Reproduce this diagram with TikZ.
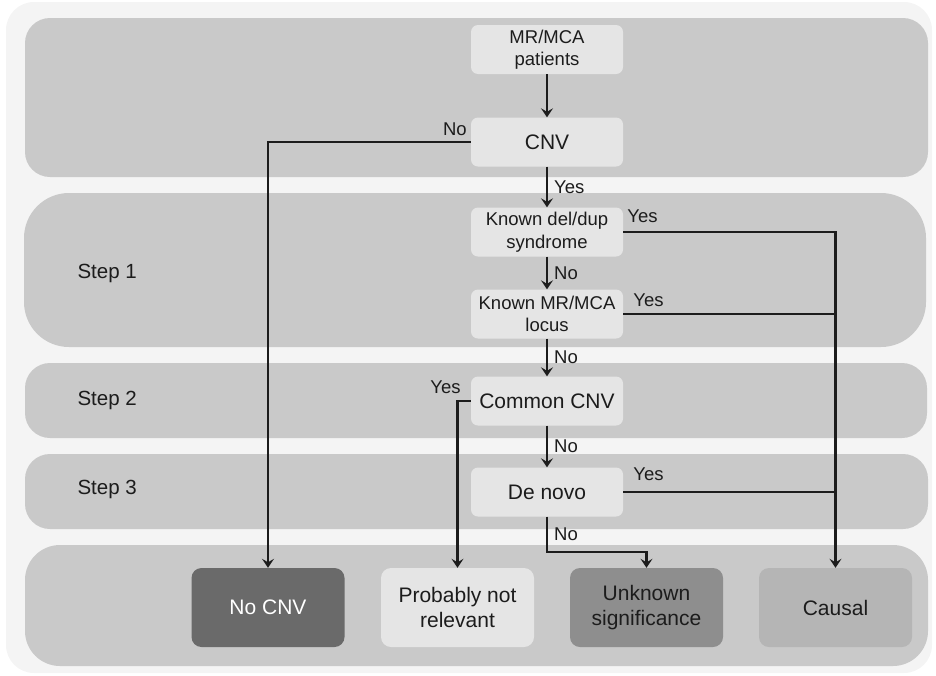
\documentclass[tikz,border=0pt]{standalone}
\usepackage{xcolor}
\usepackage{fontspec}
\setmainfont{Liberation Sans}
\usetikzlibrary{arrows.meta, positioning}
\definecolor{pagegray}{RGB}{244,244,244}
\definecolor{bandgray}{RGB}{201,201,201}
\definecolor{boxgray}{RGB}{229,229,229}
\definecolor{nocnvgray}{RGB}{106,106,106}
\definecolor{unknowngray}{RGB}{142,142,142}
\definecolor{causalgray}{RGB}{181,181,181}
\definecolor{inkgray}{RGB}{28,28,28}

\begin{document}
\begin{tikzpicture}[x=1pt, y=-1pt,
    band/.style={fill=bandgray, rounded corners=25pt},
    steplabel/.style={anchor=west, text=inkgray, font=\fontsize{20.5}{24}\selectfont},
    stepbox/.style={rectangle, fill=boxgray, rounded corners=7pt, minimum width=152pt,
        minimum height=49pt, align=center, text=inkgray, inner sep=2pt,
        font=\fontsize{18.5}{22.5}\selectfont},
    bigtext/.style={font=\fontsize{21}{24}\selectfont},
    outcome/.style={rectangle, rounded corners=10pt, minimum width=153pt, minimum height=79pt,
        align=center, text=inkgray, font=\fontsize{21}{25}\selectfont},
    answer/.style={text=inkgray, inner sep=3pt, font=\fontsize{18.5}{22}\selectfont},
    flow/.style={draw=inkgray, line width=2.3pt, -{Stealth[length=9pt, width=12pt, inset=3.5pt]}},
    link/.style={draw=inkgray, line width=2.3pt}]
    \useasboundingbox (0,0) rectangle (936,675);
    \fill[pagegray, rounded corners=28pt] (6,2) rectangle (932,673);
    \fill[band] (25,18) rectangle (928,177);
    \fill[band, rounded corners=45pt] (24,193) rectangle (926,347);
    \fill[band] (25,363) rectangle (927,438);
    \fill[band] (25,454) rectangle (928,529);
    \fill[band, rounded corners=35pt] (25,545) rectangle (928,666);

    \node[steplabel] (step1) at (74,273) {Step 1};
    \node[steplabel] (step2) at (74,400) {Step 2};
    \node[steplabel] (step3) at (74,489) {Step 3};

    \node[stepbox] (patients) at (547,49.5) {MR/MCA\\patients};
    \node[stepbox, bigtext] (cnv) at (547,142) {CNV};
    \node[stepbox] (deldup) at (547,232) {Known del/dup\\syndrome};
    \node[stepbox] (locus) at (547,314) {Known MR/MCA\\locus};
    \node[stepbox, bigtext] (common) at (547,401) {Common CNV};
    \node[stepbox, bigtext] (denovo) at (547,492) {De novo};

    \node[outcome, fill=nocnvgray, text=white] (nocnv) at (268,607.5) {No CNV};
    \node[outcome, fill=boxgray] (notrel) at (457.5,607.5) {Probably not\\relevant};
    \node[outcome, fill=unknowngray] (unknown) at (646.5,607.5) {Unknown\\significance};
    \node[outcome, fill=causalgray] (causal) at (835.5,607.5) {Causal};

    \coordinate (nobend) at (547,552);

    \draw[flow] (patients) -- (cnv);
    \draw[flow] (cnv) -- node[answer, right, xshift=3pt] {Yes} (deldup);
    \draw[flow] (deldup) -- node[answer, right, xshift=3pt] {No} (locus);
    \draw[flow] (locus) -- node[answer, right, xshift=3pt] {No} (common);
    \draw[flow] (common) -- node[answer, right, xshift=3pt] {No} (denovo);
    \draw[flow] (denovo) -- node[answer, right, xshift=3pt] {No} (nobend) -| (unknown);

    \draw[flow] (cnv.west) node[answer, anchor=south east, yshift=2pt] {No} -| (nocnv);
    \draw[flow] (common.west) node[answer, anchor=south east, xshift=-6pt, yshift=3pt] {Yes} -| (notrel);
    \draw[flow] (deldup.east) node[answer, anchor=south west, yshift=5pt] {Yes} -| (causal);
    \draw[link] (locus.east) node[answer, anchor=south west, xshift=6pt, yshift=3pt] {Yes} -- (locus.east -| causal);
    \draw[link] (denovo.east) node[answer, anchor=south west, xshift=6pt, yshift=7pt] {Yes} -- (denovo.east -| causal);
\end{tikzpicture}
\end{document}
